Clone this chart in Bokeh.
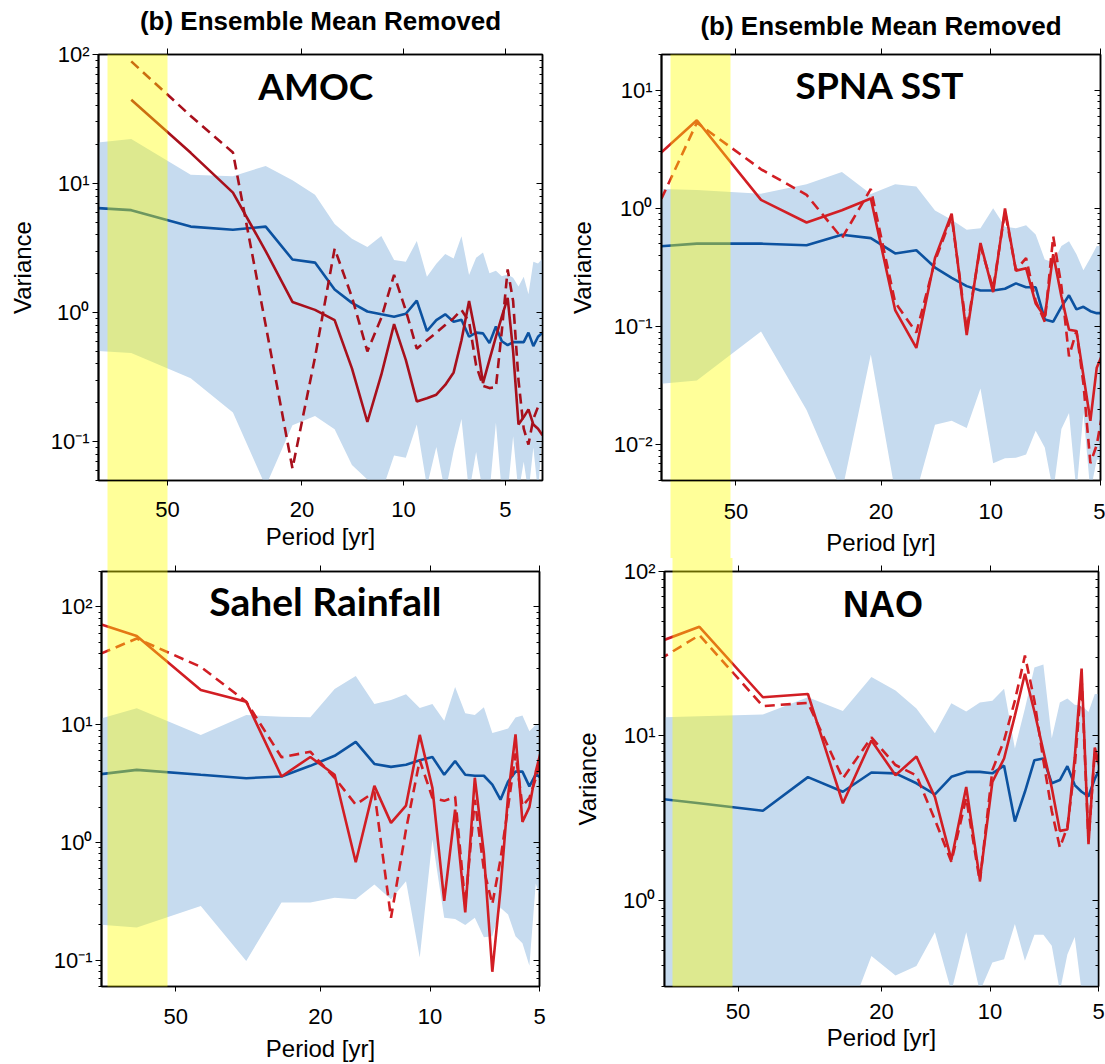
from bokeh.plotting import figure
from bokeh.models import (Range1d, FixedTicker, LogAxis, Label, CustomJSTickFormatter)
from bokeh.layouts import row, column
from bokeh.embed import file_html
from bokeh.resources import INLINE

nan = float("nan")

# ---------------- data ----------------
periods = [128, 64, 42.67, 32, 25.6, 21.33, 18.29, 16, 14.22, 12.8, 11.64, 10.67, 9.85,
           9.14, 8.53, 8, 7.53, 7.11, 6.74, 6.4, 6.1, 5.82, 5.57, 5.33, 5.12, 4.92,
           4.74, 4.57, 4.41, 4.27, 4.13, 4.0, 3.88]
x_ticks = [50, 20, 10, 5]
title_text = "(b) Ensemble Mean Removed"

amoc_mean = [6.95, 6.22, 4.64, 4.38, 4.64, 2.58, 2.44, 1.51, 1.19, 1.02, 0.97, 0.93, 0.98,
             1.24, 0.72, 0.875, 0.97, 0.85, 0.88, 0.65, 0.70, 0.69, 0.58, 0.78, 0.60, 0.56,
             0.59, 0.59, 0.59, 0.70, 0.55, 0.65, 0.70]
amoc_hi = [18.3, 22.1, 11.7, 11.4, 13.7, 10.6, 8.2, 4.86, 3.74, 3.23, 3.92, 2.56, 2.48,
           3.59, 1.90, 2.39, 2.84, 2.63, 3.90, 1.96, 2.66, 2.92, 2.02, 2.11, 1.91, 1.97,
           1.86, 1.59, 1.9, 1.39, 2.48, 2.4, 2.62]
amoc_lo = [0.54, 0.486, 0.31, 0.168, 0.045, 0.134, 0.158, 0.125, 0.066, 0.051, 0.04, 0.078,
           0.075, 0.136, 0.045, 0.091, 0.04, 0.085, 0.15, 0.04, 0.083, 0.04, 0.04, 0.14,
           0.04, 0.04, 0.11, 0.04, 0.07, 0.04, 0.09, 0.04, 0.12]
amoc_solid = [nan, 44.6, 17.3, 8.5, 3.0, 1.21, 1.05, 0.875, 0.37, 0.142, 0.33, 0.815, 0.43,
              0.205, 0.217, 0.231, 0.275, 0.344, 0.61, 1.23, 0.65, 0.284, 0.43, 0.65, 0.93,
              1.30, 0.5, 0.136, 0.155, 0.178, 0.136, 0.126, 0.112]
amoc_dashed = [nan, 88.5, 33.4, 17.4, 0.8, 0.062, 0.45, 3.13, 1.32, 0.5, 0.91, 1.96, 1.04,
               0.525, 0.61, 0.70, 0.80, 0.905, 1.05, 0.85, 0.39, 0.27, 0.26, 0.265, 0.72,
               2.16, 1.23, 0.30, 0.126, 0.095, 0.15, 0.186, 0.2]

spna_mean = [0.43, 0.503, 0.503, 0.488, 0.598, 0.56, 0.416, 0.443, 0.316, 0.258, 0.22, 0.202,
             0.202, 0.209, 0.232, 0.215, 0.215, 0.115, 0.11, 0.147, 0.184, 0.14, 0.147,
             0.135, 0.13, 0.13]
spna_hi = [1.52, 1.43, 1.33, 1.60, 2.03, 1.32, 1.60, 1.53, 0.96, 0.80, 0.66, 0.68, 1.0, 0.70,
           0.68, 0.72, 0.60, 0.37, 0.35, 0.48, 0.526, 0.41, 0.30, 0.38, 0.48, 0.48]
spna_lo = [0.029, 0.035, 0.091, 0.0197, 0.004, 0.058, 0.004, 0.004, 0.0148, 0.016, 0.0139,
           0.030, 0.007, 0.0077, 0.0078, 0.0083, 0.0132, 0.0095, 0.004, 0.0136, 0.0186,
           0.004, 0.0186, 0.004, 0.0075, 0.0075]
spna_solid = [0.80, 5.56, 1.18, 0.76, 0.965, 1.21, 0.138, 0.066, 0.38, 0.90, 0.085, 0.51,
              0.196, 1.0, 0.297, 0.312, 0.157, 0.121, 0.41, 0.18, 0.094, 0.092, 0.0386,
              0.016, 0.045, 0.06]
spna_dashed = [0.054, 5.3, 2.14, 1.30, 0.56, 1.46, 0.16, 0.089, 0.36, 0.85, 0.094, 0.48,
               0.21, 0.94, 0.30, 0.38, 0.165, 0.11, 0.58, 0.22, 0.056, 0.092, 0.033, 0.007,
               0.01, 0.02]

sahel_mean = [3.2, 4.14, 3.76, 3.52, 3.64, 4.48, 5.45, 7.15, 4.65, 4.39, 4.57, 5.0, 5.33,
              3.76, 4.92, 3.76, 3.69, 3.69, 3.1, 2.31, 3.3, 4.0, 4.0, 3.0, 3.8, 3.5]
sahel_hi = [7.5, 13.8, 8.2, 12.1, 11.7, 11.6, 20.1, 25.9, 15.0, 16.2, 18.2, 13.9, 15.0, 10.8,
            20.9, 12.5, 12.1, 14.1, 8.5, 8.9, 9.3, 11.5, 12.0, 8.8, 10.0, 10.0]
sahel_lo = [0.225, 0.19, 0.29, 0.099, 0.31, 0.31, 0.34, 0.33, 0.44, 0.33, 0.47, 0.106, 1.06,
            0.23, 0.225, 0.20, 0.23, 0.157, 0.16, 0.28, 0.245, 0.16, 0.14, 0.09, 0.45, 0.3]
sahel_solid = [113, 56.7, 19.7, 15.7, 3.64, 5.33, 3.76, 0.68, 3.03, 1.47, 2.06, 8.2, 2.92,
               0.32, 1.9, 0.255, 3.55, 0.81, 0.08, 0.4, 2.5, 8.3, 1.5, 2.0, 4.0, 6.5]
sahel_dashed = [21.8, 54, 31, 15.7, 5.3, 5.9, 3.55, 2.1, 2.69, 0.23, 1.29, 5.0, 2.4, 2.26,
                2.45, 0.30, 2.3, 0.59, 0.30, 0.72, 2.0, 5.7, 2.04, 2.4, 3.5, 5.7]

nao_mean = [4.63, 3.9, 3.51, 5.62, 4.58, 6.0, 5.93, 5.16, 4.42, 5.65, 6.05, 6.05, 5.93, 6.6,
            3.02, 4.58, 7.13, 7.3, 5.16, 5.4, 6.56, 5.03, 4.58, 4.3, 5.5, 6.5]
nao_hi = [12.6, 13.2, 13.5, 17.2, 14.2, 22.8, 18.9, 14.7, 10.4, 15.8, 14.1, 16.0, 16.4, 19.4,
          8.4, 14.7, 26.1, 27.2, 9.7, 16.0, 16.9, 15.5, 15.3, 14.0, 18.0, 18.0]
nao_lo = [0.15, 0.15, 0.15, 0.15, 0.16, 0.46, 0.35, 0.40, 0.64, 0.28, 0.64, 0.28, 0.42, 0.44,
          0.72, 0.43, 0.62, 0.62, 0.53, 0.28, 0.47, 0.60, 0.28, 0.28, 0.28, 0.28]
nao_solid = [26.2, 46.1, 17.2, 18.0, 3.9, 9.4, 5.78, 7.5, 4.26, 1.77, 4.9, 1.34, 5.25, 7.3,
             13.3, 23.9, 14.1, 8.1, 4.85, 2.65, 2.7, 7.4, 25.7, 2.2, 8.5, 6.0]
nao_dashed = [16.3, 41, 15.2, 15.9, 5.52, 9.8, 6.66, 5.76, 3.1, 1.72, 4.2, 1.3, 6.2, 9.4,
              16.4, 30.8, 16.4, 7.1, 3.5, 2.1, 2.8, 6.5, 22.0, 2.3, 8.0, 6.0]

# ---------------- styling ----------------
FONT = "Liberation Sans"
BAND = "#c6dbef"
BLUE = "#0c52a0"
RED_DARK = "#a8101c"
RED = "#d21e24"
YELLOW = "#ffff00"

decades = [0.001, 0.01, 0.1, 1, 10, 100, 1000]
minors = [m * d for d in decades[:-1] for m in range(2, 10)]

sup_fmt = """
const e = Math.round(Math.log10(tick));
const m = {"-":"\u207b","0":"\u2070","1":"\u00b9","2":"\u00b2","3":"\u00b3","4":"\u2074",
           "5":"\u2075","6":"\u2076","7":"\u2077","8":"\u2078","9":"\u2079"};
return "10" + String(e).split("").map(c => m[c]).join("");
"""


def blank():
    return CustomJSTickFormatter(code='return ""')


def style_strip(axis, center, width_px):
    # the highlighted period band: one wide translucent minor tick running across
    # the frame and the gap between the stacked panels
    axis.ticker = FixedTicker(ticks=x_ticks, minor_ticks=[center])
    axis.minor_tick_in = 2500
    axis.minor_tick_out = 0
    axis.minor_tick_line_color = YELLOW
    axis.minor_tick_line_alpha = 0.4
    axis.minor_tick_line_width = width_px
    axis.minor_tick_line_cap = "butt"


def build(w, h, mbl, mbr, mbt, mbb, x_end, y0, y1, mean, lo, hi, solid, dashed, red,
          name, name_font, name_size, name_x, name_y, strip, top_panel, title,
          ylabel_standoff, xlabel_standoff, xtick_standoff, has_ylabel=True,
          title_standoff=5):
    n = len(mean)
    x = periods[:n]
    p = figure(width=w, height=h, x_axis_type="log", y_axis_type="log",
               x_range=Range1d(80, x_end), y_range=Range1d(y0, y1),
               output_backend="svg", toolbar_location=None, tools="",
               min_border_left=mbl, min_border_right=mbr, min_border_top=mbt,
               min_border_bottom=mbb, title=None)
    p.background_fill_color = "white"
    p.border_fill_color = "white"
    p.grid.visible = False
    p.outline_line_color = "black"
    p.outline_line_width = 1.5

    xa = p.xaxis[0]
    xa.ticker = FixedTicker(ticks=x_ticks, minor_ticks=[])
    xa.formatter = CustomJSTickFormatter(code="return String(tick)")
    xa.major_tick_out = 5
    xa.major_tick_in = 0
    xa.minor_tick_out = 0
    xa.minor_tick_in = 0
    xa.major_label_standoff = xtick_standoff
    xa.major_label_text_font = FONT
    xa.major_label_text_font_size = "22px"
    xa.major_label_text_color = "black"
    xa.axis_label = "Period [yr]"
    xa.axis_label_text_font = FONT
    xa.axis_label_text_font_size = "24px"
    xa.axis_label_text_font_style = "normal"
    xa.axis_label_text_color = "black"
    xa.axis_label_standoff = xlabel_standoff
    xa.axis_line_width = 1.5
    xa.axis_line_color = "black"
    xa.major_tick_line_color = "black"

    ya = p.yaxis[0]
    ya.ticker = FixedTicker(ticks=decades, minor_ticks=minors)
    ya.formatter = CustomJSTickFormatter(code=sup_fmt)
    ya.major_tick_out = 6
    ya.major_tick_in = 0
    ya.minor_tick_out = 3
    ya.minor_tick_in = 0
    ya.major_label_standoff = 3
    ya.major_label_text_font = FONT
    ya.major_label_text_font_size = "22px"
    ya.major_label_text_color = "black"
    ya.axis_line_width = 2
    ya.axis_line_color = "black"
    ya.major_tick_line_color = "black"
    ya.minor_tick_line_color = "black"
    if has_ylabel:
        ya.axis_label = "Variance"
        ya.axis_label_text_font = FONT
        ya.axis_label_text_font_size = "24px"
        ya.axis_label_text_font_style = "normal"
        ya.axis_label_text_color = "black"
        ya.axis_label_standoff = ylabel_standoff

    top = LogAxis(ticker=FixedTicker(ticks=x_ticks, minor_ticks=[]), formatter=blank(),
                  major_tick_out=6, major_tick_in=0, minor_tick_out=0, minor_tick_in=0,
                  major_label_standoff=0, major_label_text_font_size="0px",
                  axis_line_width=1.5, axis_line_color="black")
    if title:
        top.axis_label = title
        top.axis_label_text_font = FONT
        top.axis_label_text_font_size = "26px"
        top.axis_label_text_font_style = "bold"
        top.axis_label_text_color = "black"
        top.axis_label_standoff = title_standoff
    p.add_layout(top, "above")

    if top_panel:
        # band hangs from the top edge of the frame down to the bottom of the canvas
        style_strip(top, *strip)
    else:
        # band rises from the bottom edge of the frame up to the top of the canvas
        style_strip(xa, *strip)

    right = LogAxis(ticker=FixedTicker(ticks=decades, minor_ticks=minors), formatter=blank(),
                    major_tick_out=0, major_tick_in=6, minor_tick_out=0, minor_tick_in=3,
                    major_label_standoff=0, major_label_text_font_size="0px",
                    axis_line_width=1.5, axis_line_color="black")
    p.add_layout(right, "right")

    p.varea(x=x, y1=lo, y2=hi, fill_color=BAND, fill_alpha=1.0)
    p.line(x, mean, line_color=BLUE, line_width=2.6)
    p.line(x, solid, line_color=red, line_width=2.6)
    p.line(x, dashed, line_color=red, line_width=2.6, line_dash="10 6")

    p.add_layout(Label(x=name_x, y=name_y, text=name, text_font=name_font,
                       text_font_size=name_size, text_font_style="bold",
                       text_color="black", text_align="center",
                       text_baseline="alphabetic"))
    return p


p1 = build(560, 558, 98, 18, 49, 76, 3.88, 0.05, 100,
           amoc_mean, amoc_lo, amoc_hi, amoc_solid, amoc_dashed, RED_DARK,
           "AMOC", "Lato", "37px", 18.2, 58, (61.3, 60), True, title_text,
           12, 3, 16, title_standoff=13)
p2 = build(545, 558, 101, 5, 54, 71, 5, 0.005, 20,
           spna_mean, spna_lo, spna_hi, spna_solid, spna_dashed, RED,
           "SPNA SST", "Lato", "37px", 20.1, 11.2, (62.4, 60), True, title_text,
           15, 7, 18, title_standoff=8)
p3 = build(560, 506, 101, 21, 13, 76, 5, 0.06, 200,
           sahel_mean, sahel_lo, sahel_hi, sahel_solid, sahel_dashed, RED,
           "Sahel Rainfall", "Lato", "39px", 19.4, 113, (63.7, 60), False, None,
           12, 8, 17, has_ylabel=False)
p4 = build(545, 506, 104, 7, 13, 76, 5, 0.3, 100,
           nao_mean, nao_lo, nao_hi, nao_solid, nao_dashed, RED,
           "NAO", FONT, "36px", 19.8, 63, (62.9, 60), False, None,
           19, 2, 12)

layout = column(row(p1, p2, spacing=0), row(p3, p4, spacing=0), spacing=0)
open("out.html", "w").write(file_html(layout, INLINE, "Variance spectra"))
